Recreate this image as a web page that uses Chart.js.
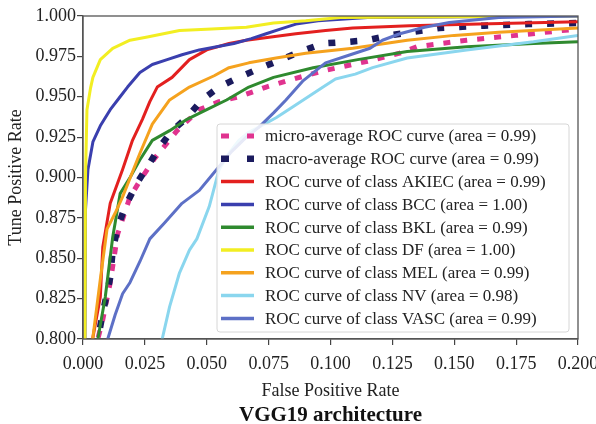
<!DOCTYPE html>
<html>
<head>
<meta charset="utf-8">
<script src="https://cdn.jsdelivr.net/npm/chart.js@4/dist/chart.umd.min.js"></script>
<style>
  html, body { margin: 0; padding: 0; background: #fff; }
  #wrap { width: 596px; height: 424px; }
</style>
</head>
<body>
<div id="wrap"><canvas id="roc" width="596" height="424"></canvas></div>
<script>
// ---- data ----
const xTicks = [0, 0.025, 0.05, 0.075, 0.1, 0.125, 0.15, 0.175, 0.2];
const yTicks = [0.8, 0.825, 0.85, 0.875, 0.9, 0.925, 0.95, 0.975, 1.0];

const seriesLabels = [
  'micro-average ROC curve (area = 0.99)',
  'macro-average ROC curve (area = 0.99)',
  'ROC curve of class AKIEC (area = 0.99)',
  'ROC curve of class BCC (area = 1.00)',
  'ROC curve of class BKL (area = 0.99)',
  'ROC curve of class DF (area = 1.00)',
  'ROC curve of class MEL (area = 0.99)',
  'ROC curve of class NV (area = 0.98)',
  'ROC curve of class VASC (area = 0.99)'
];

const microFpr = [0.005, 0.006, 0.008, 0.011, 0.014, 0.019, 0.023, 0.029, 0.038, 0.047, 0.055, 0.063, 0.074, 0.085, 0.097, 0.115, 0.128, 0.135, 0.155, 0.175, 0.2];
const microTpr = [0.78, 0.80, 0.812, 0.835, 0.865, 0.888, 0.898, 0.912, 0.929, 0.942, 0.947, 0.950, 0.956, 0.961, 0.966, 0.972, 0.977, 0.981, 0.985, 0.988, 0.992];

const macroFpr = [0.005, 0.006, 0.008, 0.011, 0.012, 0.014, 0.017, 0.022, 0.027, 0.031, 0.036, 0.042, 0.048, 0.055, 0.063, 0.072, 0.080, 0.088, 0.097, 0.107, 0.115, 0.124, 0.144, 0.162, 0.18, 0.2];
const macroTpr = [0.78, 0.80, 0.816, 0.838, 0.855, 0.869, 0.882, 0.897, 0.909, 0.919, 0.929, 0.937, 0.948, 0.956, 0.962, 0.968, 0.973, 0.978, 0.983, 0.984, 0.985, 0.988, 0.9926, 0.994, 0.995, 0.9957];

const akiecFpr = [0.003, 0.004, 0.007, 0.008, 0.011, 0.016, 0.020, 0.024, 0.027, 0.030, 0.036, 0.043, 0.050, 0.059, 0.066, 0.076, 0.086, 0.098, 0.109, 0.132, 0.16, 0.2];
const akiecTpr = [0.78, 0.801, 0.826, 0.857, 0.884, 0.905, 0.923, 0.936, 0.947, 0.956, 0.962, 0.973, 0.979, 0.983, 0.985, 0.987, 0.989, 0.991, 0.9926, 0.994, 0.995, 0.9965];

const bccFpr = [0, 0.0008, 0.001, 0.002, 0.004, 0.007, 0.011, 0.015, 0.018, 0.023, 0.028, 0.034, 0.040, 0.047, 0.054, 0.061, 0.068, 0.074, 0.080, 0.086, 0.095, 0.115, 0.2];
const bccTpr = [0.78, 0.80, 0.88, 0.905, 0.922, 0.932, 0.942, 0.950, 0.956, 0.965, 0.970, 0.973, 0.976, 0.979, 0.981, 0.983, 0.986, 0.989, 0.992, 0.995, 0.997, 0.999, 1.0];

const bklFpr = [0.0055, 0.006, 0.009, 0.012, 0.015, 0.019, 0.023, 0.028, 0.035, 0.042, 0.050, 0.058, 0.067, 0.077, 0.093, 0.111, 0.131, 0.155, 0.182, 0.2];
const bklTpr = [0.78, 0.80, 0.826, 0.863, 0.890, 0.900, 0.911, 0.923, 0.929, 0.936, 0.942, 0.948, 0.956, 0.962, 0.968, 0.973, 0.978, 0.981, 0.983, 0.984];

const dfFpr = [0, 0.0008, 0.001, 0.0016, 0.003, 0.004, 0.007, 0.012, 0.019, 0.026, 0.039, 0.052, 0.066, 0.077, 0.090, 0.104, 0.2];
const dfTpr = [0.78, 0.80, 0.90, 0.942, 0.955, 0.962, 0.973, 0.980, 0.985, 0.987, 0.991, 0.992, 0.993, 0.9957, 0.997, 0.999, 1.0];

const melFpr = [0.003, 0.004, 0.007, 0.0097, 0.013, 0.016, 0.023, 0.028, 0.035, 0.043, 0.053, 0.059, 0.067, 0.078, 0.090, 0.109, 0.131, 0.150, 0.168, 0.2];
const melTpr = [0.78, 0.801, 0.837, 0.868, 0.878, 0.888, 0.915, 0.933, 0.948, 0.956, 0.963, 0.968, 0.971, 0.974, 0.977, 0.980, 0.985, 0.988, 0.990, 0.9926];

const nvFpr = [0.031, 0.032, 0.035, 0.039, 0.043, 0.046, 0.051, 0.055, 0.059, 0.063, 0.067, 0.072, 0.078, 0.085, 0.091, 0.097, 0.102, 0.110, 0.117, 0.131, 0.155, 0.182, 0.2];
const nvTpr = [0.78, 0.80, 0.820, 0.841, 0.855, 0.862, 0.882, 0.905, 0.915, 0.923, 0.928, 0.932, 0.937, 0.944, 0.950, 0.956, 0.961, 0.964, 0.968, 0.974, 0.979, 0.984, 0.988];

const vascFpr = [0.009, 0.010, 0.013, 0.016, 0.019, 0.023, 0.027, 0.033, 0.040, 0.047, 0.054, 0.060, 0.066, 0.071, 0.077, 0.082, 0.089, 0.098, 0.108, 0.116, 0.121, 0.128, 0.138, 0.148, 0.168, 0.2];
const vascTpr = [0.78, 0.80, 0.815, 0.828, 0.835, 0.848, 0.862, 0.872, 0.884, 0.892, 0.905, 0.916, 0.925, 0.931, 0.940, 0.948, 0.960, 0.971, 0.976, 0.980, 0.985, 0.989, 0.993, 0.996, 0.999, 1.0];

// ---- build datasets ----
const toPts = (xs, ys) => xs.map((x, i) => ({ x: x, y: ys[i] }));

const curves = [
  { fpr: microFpr, tpr: microTpr, color: '#e0338f', width: 5, dash: [7, 10] },
  { fpr: macroFpr, tpr: macroTpr, color: '#1b1b5e', width: 6.5, dash: [7, 15] },
  { fpr: akiecFpr, tpr: akiecTpr, color: '#e3201f', width: 3 },
  { fpr: bccFpr, tpr: bccTpr, color: '#3a3fae', width: 3 },
  { fpr: bklFpr, tpr: bklTpr, color: '#2f8a2f', width: 3 },
  { fpr: dfFpr, tpr: dfTpr, color: '#f2ee22', width: 3 },
  { fpr: melFpr, tpr: melTpr, color: '#f5a21e', width: 3 },
  { fpr: nvFpr, tpr: nvTpr, color: '#8ad6ee', width: 3 },
  { fpr: vascFpr, tpr: vascTpr, color: '#5d70c6', width: 3 }
];

const datasets = curves.map((c, i) => ({
  label: seriesLabels[i],
  data: toPts(c.fpr, c.tpr),
  borderColor: c.color,
  backgroundColor: c.color,
  borderWidth: c.width,
  borderDash: c.dash || [],
  borderCapStyle: 'butt',
  borderJoinStyle: 'round',
  showLine: true,
  pointRadius: 0,
  tension: 0,
  clip: 0,
  order: curves.length - i  // later classes drawn on top, like matplotlib
}));

const FONT = "'Liberation Serif', 'DejaVu Serif', serif";

// frame around the plot + legend box drawn inside the axes
const framePlugin = {
  id: 'frame',
  afterDatasetsDraw(chart) {
    const { ctx, chartArea: a } = chart;
    ctx.save();
    ctx.strokeStyle = '#555';
    ctx.lineWidth = 1.3;
    ctx.strokeRect(a.left, a.top, a.right - a.left, a.bottom - a.top);
    ctx.restore();
  }
};

const legendPlugin = {
  id: 'boxLegend',
  afterDraw(chart) {
    const ctx = chart.ctx;
    const bx = 217, by = 124, bw = 352, bh = 208, r = 3;
    ctx.save();
    ctx.beginPath();
    ctx.moveTo(bx + r, by);
    ctx.arcTo(bx + bw, by, bx + bw, by + bh, r);
    ctx.arcTo(bx + bw, by + bh, bx, by + bh, r);
    ctx.arcTo(bx, by + bh, bx, by, r);
    ctx.arcTo(bx, by, bx + bw, by, r);
    ctx.closePath();
    ctx.fillStyle = 'rgba(255,255,255,0.85)';
    ctx.fill();
    ctx.strokeStyle = '#d6d6d6';
    ctx.lineWidth = 1;
    ctx.stroke();

    const rowH = 22.8;
    chart.data.datasets.forEach((ds, i) => {
      const y = 136 + i * rowH;
      ctx.beginPath();
      ctx.strokeStyle = ds.borderColor;
      ctx.lineCap = 'butt';
      if (ds.borderDash.length) {
        ctx.lineWidth = ds.borderWidth;
        ctx.setLineDash([8, 18]);
      } else {
        ctx.lineWidth = 3.5;
        ctx.setLineDash([]);
      }
      ctx.moveTo(221, y);
      ctx.lineTo(254, y);
      ctx.stroke();
      ctx.setLineDash([]);
      ctx.fillStyle = '#222';
      ctx.font = '17px ' + FONT;
      ctx.textBaseline = 'middle';
      ctx.textAlign = 'left';
      ctx.fillText(ds.label, 265, y + 1);
    });

    // caption under the axis title
    ctx.font = 'bold 21px ' + FONT;
    ctx.textAlign = 'center';
    ctx.textBaseline = 'alphabetic';
    ctx.fillStyle = '#111';
    const a = chart.chartArea;
    ctx.fillText('VGG19 architecture', (a.left + a.right) / 2, 421);
    ctx.restore();
  }
};

new Chart(document.getElementById('roc'), {
  type: 'scatter',
  data: { datasets: datasets },
  plugins: [framePlugin, legendPlugin],
  options: {
    responsive: false,
    animation: false,
    devicePixelRatio: 1,
    layout: { padding: { top: 16, right: 18, left: 0, bottom: 0 } },
    plugins: {
      legend: { display: false },
      tooltip: { enabled: false }
    },
    scales: {
      x: {
        type: 'linear',
        min: xTicks[0],
        max: xTicks[xTicks.length - 1],
        afterBuildTicks: (s) => { s.ticks = xTicks.map(v => ({ value: v })); },
        afterFit: (s) => { s.height = 85; s.paddingLeft = 0; s.paddingRight = 0; },
        grid: { drawOnChartArea: false, drawTicks: true, tickLength: 6, color: '#444', lineWidth: 1.2 },
        border: { display: true, color: '#555', width: 1.3 },
        ticks: {
          padding: 8,
          color: '#222',
          font: { family: FONT, size: 18 },
          maxRotation: 0,
          callback: (v) => Number(v).toFixed(3)
        },
        title: {
          display: true,
          text: 'False Positive Rate',
          color: '#222',
          font: { family: FONT, size: 18 },
          padding: { top: 0, bottom: 22 }
        }
      },
      y: {
        type: 'linear',
        min: yTicks[0],
        max: yTicks[yTicks.length - 1],
        afterBuildTicks: (s) => { s.ticks = yTicks.map(v => ({ value: v })); },
        afterFit: (s) => { s.width = 83; s.paddingTop = 0; s.paddingBottom = 0; },
        grid: { drawOnChartArea: false, drawTicks: true, tickLength: 6, color: '#444', lineWidth: 1.2 },
        border: { display: true, color: '#555', width: 1.3 },
        ticks: {
          padding: 1,
          color: '#222',
          font: { family: FONT, size: 18 },
          callback: (v) => Number(v).toFixed(3)
        },
        title: {
          display: true,
          text: 'Tune Positive Rate',
          color: '#222',
          font: { family: FONT, size: 18 },
          padding: { top: 5, bottom: 0 }
        }
      }
    }
  }
});
</script>
</body>
</html>
